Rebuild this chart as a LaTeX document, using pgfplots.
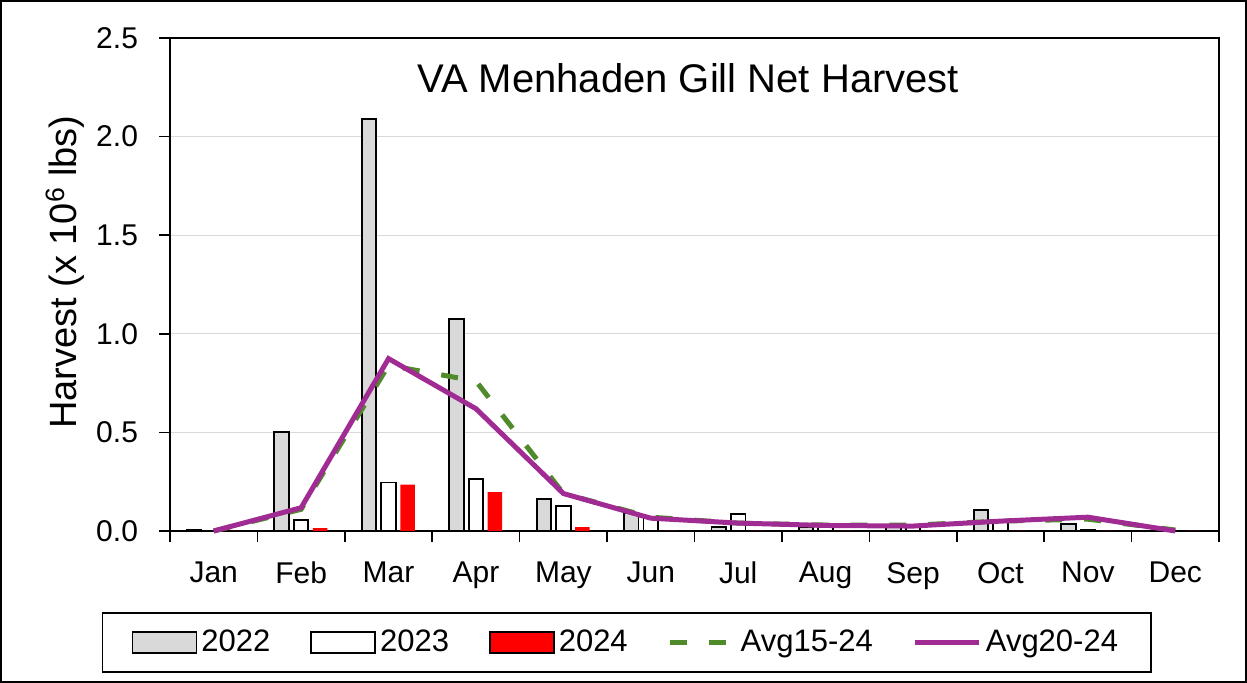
\documentclass[border=0pt]{standalone}
\usepackage{pgfplots}
\usepackage{pgfplotstable}
\pgfplotsset{compat=1.18}
\usepackage{fontspec}
\setmainfont{Liberation Sans}
\definecolor{g22}{HTML}{D9D9D9}
\definecolor{avgA}{HTML}{4F8A2B}
\definecolor{avgB}{HTML}{A02B93}
\definecolor{gridc}{HTML}{D9D9D9}
\pgfplotsset{
  barleg/.style={legend image code/.code={\draw[##1] (0pt,-5.25pt) rectangle (32pt,5.25pt);}},
  lineleg/.style={legend image code/.code={\draw[##1] (0pt,0pt) -- (32pt,0pt);}},
}

\pgfplotstableread{
m y22 y23 y24 a15 a20
1 0.005 0.000 0.000 0.000 0.000
2 0.500 0.057 0.015 0.110 0.118
3 2.090 0.246 0.235 0.840 0.874
4 1.074 0.265 0.197 0.760 0.620
5 0.162 0.127 0.020 0.190 0.190
6 0.092 0.070 0.000 0.070 0.065
7 0.020 0.088 0.000 0.040 0.040
8 0.020 0.025 0.000 0.030 0.028
9 0.030 0.020 0.000 0.030 0.025
10 0.105 0.045 0.000 0.050 0.050
11 0.035 0.005 0.000 0.060 0.070
12 0.000 0.000 0.000 0.005 0.000
}\harvest

\begin{document}
\begin{tikzpicture}
\useasboundingbox (0,0) rectangle (623.5pt,341.5pt);
\draw[line width=1pt] (0.5pt,0.5pt) rectangle (623pt,341pt);
\begin{axis}[
  at={(85pt,76pt)}, anchor=south west,
  width=524.5pt, height=246.5pt, scale only axis,
  xmin=0.5, xmax=12.5, ymin=0, ymax=2.5,
  xtick={0.5,1.5,...,12.5},
  x tick label as interval,
  xticklabels={Jan,Feb,Mar,Apr,May,Jun,Jul,Aug,Sep,Oct,Nov,Dec},
  ytick={0,0.5,...,2.5},
  /pgf/number format/assume math mode=true,
  y tick label style={/pgf/number format/fixed, /pgf/number format/fixed zerofill, /pgf/number format/precision=1},
  ymajorgrids, grid style={gridc, line width=0.6pt},
  tick align=outside, major tick length=5.5pt,
  xtick pos=bottom, ytick pos=left,
  tick style={black, line width=0.8pt},
  axis line style={line width=0.8pt},
  xticklabel style={font=\fontsize{15}{17}\selectfont, yshift=-6.5pt},
  y tick label style={font=\fontsize{15}{17}\selectfont, xshift=-7pt},
  ylabel={Harvest (x 10\textsuperscript{6} lbs)},
  ylabel style={font=\fontsize{19}{21}\selectfont, at={(axis description cs:-0.1,0.525)}, anchor=center},
  clip=false,
  legend columns=5,
  legend cell align=left,
  legend style={at={(0.4355,-0.226)}, anchor=center, draw=black, line width=0.8pt,
    font=\fontsize{15.5}{17}\selectfont, inner xsep=14.5pt, inner ysep=6.5pt,
    /tikz/every even column/.append style={column sep=18pt}},
]
\addplot[ybar, bar width=7.25pt, bar shift=-9.75pt, fill=g22, draw=black, line width=0.9pt, barleg]
  table[x=m, y=y22] {\harvest};
\addlegendentry{2022}
\addplot[ybar, bar width=7.25pt, bar shift=0pt, fill=white, draw=black, line width=0.9pt, barleg]
  table[x=m, y=y23] {\harvest};
\addlegendentry{2023}
\addplot[ybar, bar width=7.25pt, bar shift=9.5pt, fill=red, draw=none, barleg]
  table[x=m, y=y24] {\harvest};
\addlegendentry{2024}
\addplot[avgA, line width=2.5pt, dash pattern=on 8.5pt off 11pt, mark=none, lineleg]
  table[x=m, y=a15] {\harvest};
\addlegendentry{Avg15-24}
\addplot[avgB, line width=2.5pt, mark=none, lineleg]
  table[x=m, y=a20] {\harvest};
\addlegendentry{Avg20-24}
\node[font=\fontsize{20}{24}\selectfont] at (axis description cs:0.494,0.919) {VA Menhaden Gill Net Harvest};
\end{axis}
\end{tikzpicture}
\end{document}
